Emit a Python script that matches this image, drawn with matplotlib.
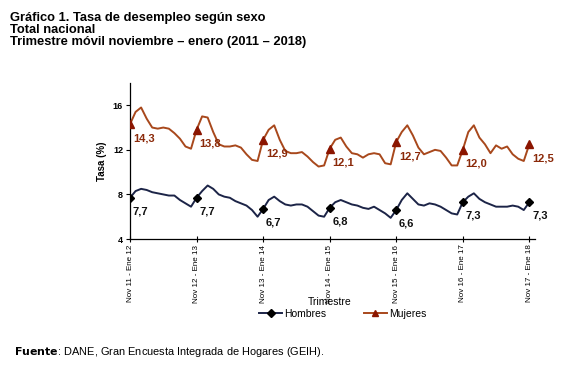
import matplotlib
matplotlib.use("Agg")
import matplotlib.pyplot as plt
import numpy as np

plt.rcParams["font.family"] = ["Liberation Sans", "DejaVu Sans"]

# Datos (trimestre movil, nov11-ene12 ... nov17-ene18)
tick_labels = ["Nov 11 - Ene 12", "Nov 12 - Ene 13", "Nov 13 - Ene 14", "Nov 14 - Ene 15",
               "Nov 15 - Ene 16", "Nov 16 - Ene 17", "Nov 17 - Ene 18"]

hombres = [
    7.7, 8.3, 8.5, 8.4, 8.2, 8.1, 8.0, 7.9, 7.9, 7.5, 7.2, 6.9,
    7.7, 8.3, 8.8, 8.5, 8.0, 7.8, 7.7, 7.4, 7.2, 7.0, 6.6, 6.0,
    6.7, 7.5, 7.8, 7.4, 7.1, 7.0, 7.1, 7.1, 6.9, 6.5, 6.1, 6.0,
    6.8, 7.3, 7.5, 7.3, 7.1, 7.0, 6.8, 6.7, 6.9, 6.6, 6.3, 5.9,
    6.6, 7.5, 8.1, 7.6, 7.1, 7.0, 7.2, 7.1, 6.9, 6.6, 6.3, 6.2,
    7.3, 7.8, 8.1, 7.6, 7.3, 7.1, 6.9, 6.9, 6.9, 7.0, 6.9, 6.6,
    7.3,
]
mujeres = [
    14.3, 15.4, 15.8, 14.8, 14.0, 13.9, 14.0, 13.9, 13.5, 13.0, 12.3, 12.1,
    13.8, 15.0, 14.9, 13.6, 12.5, 12.3, 12.3, 12.4, 12.2, 11.6, 11.1, 11.0,
    12.9, 13.8, 14.2, 12.9, 11.9, 11.7, 11.7, 11.8, 11.4, 10.9, 10.5, 10.6,
    12.1, 12.9, 13.1, 12.3, 11.7, 11.6, 11.3, 11.6, 11.7, 11.6, 10.8, 10.7,
    12.7, 13.6, 14.2, 13.3, 12.2, 11.6, 11.8, 12.0, 11.9, 11.3, 10.6, 10.6,
    12.0, 13.6, 14.2, 13.1, 12.5, 11.7, 12.4, 12.1, 12.3, 11.6, 11.2, 11.0,
    12.5,
]
hombres_lbl = ["7,7", "7,7", "6,7", "6,8", "6,6", "7,3", "7,3"]
mujeres_lbl = ["14,3", "13,8", "12,9", "12,1", "12,7", "12,0", "12,5"]

C_H_LINE = "#1c2447"
C_H_MARK = "#000000"
C_M_LINE = "#a8481c"
C_M_MARK = "#8b1500"
C_M_TEXT = "#8b2a0a"

x = np.arange(len(hombres))
tick_pos = x[::12]

fig = plt.figure(figsize=(5.82, 3.72), dpi=100)
ax = fig.add_axes([0.2234, 0.3575, 0.6956, 0.4195])

ax.plot(x, hombres, color=C_H_LINE, lw=1.4, zorder=2)
ax.plot(tick_pos, np.array(hombres)[tick_pos], ls="none", marker="D", ms=4,
        color=C_H_MARK, zorder=3)
ax.plot(x, mujeres, color=C_M_LINE, lw=1.4, zorder=2)
ax.plot(tick_pos, np.array(mujeres)[tick_pos], ls="none", marker="^", ms=6,
        color=C_M_MARK, zorder=3)

for i, p in enumerate(tick_pos):
    ax.annotate(hombres_lbl[i], (p, hombres[p]), xytext=(2, -6), textcoords="offset points",
                ha="left", va="top", fontsize=8, fontweight="bold", color="#111111",
                annotation_clip=False)
    ax.annotate(mujeres_lbl[i], (p, mujeres[p]), xytext=(2, -6.5), textcoords="offset points",
                ha="left", va="top", fontsize=8, fontweight="bold", color=C_M_TEXT,
                annotation_clip=False)

ax.set_xlim(0, 73)
ax.set_ylim(4, 18)
ax.set_yticks([4, 8, 12, 16])
ax.set_xticks(tick_pos)
ax.set_xticklabels(tick_labels, rotation=90, fontsize=5.8)
ax.tick_params(axis="x", direction="inout", length=4, width=0.8, pad=2)
ax.tick_params(axis="y", direction="out", length=3, width=0.8, labelsize=6.5, pad=2)
for lab in ax.get_yticklabels():
    lab.set_fontweight("bold")
for side in ["top", "right"]:
    ax.spines[side].set_visible(False)
for side in ["left", "bottom"]:
    ax.spines[side].set_linewidth(0.9)

ax.set_ylabel("Tasa (%)", fontsize=7, fontweight="bold", labelpad=4)
fig.text(0.567, 1 - 302 / 372, "Trimestre", ha="center", va="center", fontsize=7.5)

h1, = ax.plot([], [], color=C_H_LINE, lw=1.4, marker="D", ms=4, mfc=C_H_MARK, mec=C_H_MARK)
h2, = ax.plot([], [], color=C_M_LINE, lw=1.4, marker="^", ms=5, mfc=C_M_MARK, mec=C_M_MARK)
fig.legend([h1, h2], ["Hombres", "Mujeres"], loc="center", bbox_to_anchor=(0.589, 1 - 314 / 372),
           ncol=2, frameon=False, fontsize=7.5, handlelength=2.2, handletextpad=0.2,
           columnspacing=3.6)

fig.text(0.017, 1 - 12 / 372, "Gráfico 1. Tasa de desempleo según sexo\nTotal nacional\n"
         "Trimestre móvil noviembre – enero (2011 – 2018)", ha="left", va="top",
         fontsize=9.3, fontweight="bold", linespacing=1.0)

fig.text(0.024, 1 - 352 / 372, r"$\bf{Fuente}$: DANE, Gran Encuesta Integrada de Hogares (GEIH).",
         ha="left", va="center", fontsize=7.9)

fig.savefig("out.png", dpi=100)
